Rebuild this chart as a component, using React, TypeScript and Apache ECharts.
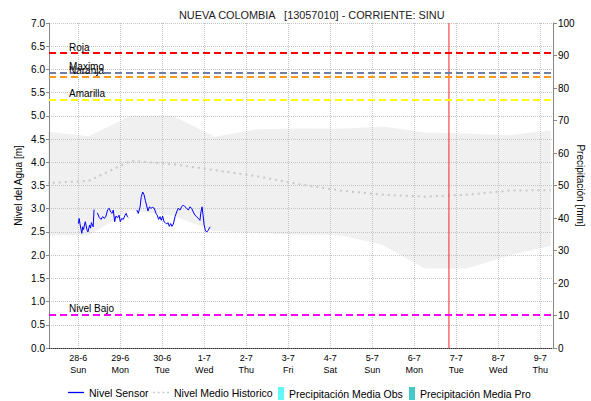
import { useEffect, useRef } from 'react';
import * as echarts from 'echarts';

// ---------- data ----------
const TITLE = 'NUEVA COLOMBIA   [13057010] - CORRIENTE: SINU';
const WEEKDAYS = ['Sun', 'Mon', 'Tue', 'Wed', 'Thu', 'Fri', 'Sat'];

// hours counted from 2020-06-28 00:00 (local)
const sensorSeg1Hours = [0, 0.5, 1, 2, 2.5, 3, 3.5, 4, 5, 5.5, 6.5, 7, 7.5, 8.5, 9];
const sensorSeg1Levels = [2.68, 2.79, 2.67, 2.47, 2.61, 2.55, 2.65, 2.72, 2.54, 2.5, 2.65, 2.58, 2.7, 2.61, 2.98];
const sensorSeg2Hours = [10.9, 12, 13, 13.9, 14.9, 15.8, 16.8, 17.7, 18.5, 19.3, 20, 20.8, 21.5, 22.5, 23.3, 24, 24.8, 25.7, 26.7, 27.4, 28, 28.6];
const sensorSeg2Levels = [2.91, 2.81, 2.77, 2.83, 2.79, 2.84, 2.98, 3.01, 2.93, 2.9, 2.97, 2.72, 2.84, 2.81, 2.86, 2.72, 2.79, 2.77, 2.86, 2.9, 2.83, 2.81];
const sensorSeg3Hours = [33.4, 34.3, 35.3, 36, 36.8, 37.5, 38.3, 39.1, 39.8, 40.6, 41.5, 42.5, 43.4, 44.4, 45.1, 45.9, 46.7, 47.4, 48.2, 49, 49.7, 50.5, 51.3, 52, 52.8, 53.5, 54.3, 55.3, 56.2, 57.1, 58.1, 59, 60, 61, 61.9, 62.9, 63.8, 64.8, 65.7, 66.7, 67.6, 68.6, 69.5, 70.1, 70.7, 71.3, 71.9, 72.7, 73.5, 74.3, 75.3];
const sensorSeg3Levels = [2.97, 2.9, 3.04, 3.26, 3.36, 3.31, 3.18, 3.06, 2.95, 3.04, 3.01, 3.03, 3.01, 2.9, 2.86, 2.77, 2.83, 2.75, 2.84, 2.72, 2.7, 2.67, 2.7, 2.62, 2.68, 2.62, 2.67, 2.83, 2.93, 3.01, 2.97, 3.04, 3.08, 3.04, 3.01, 2.97, 3.04, 3.01, 2.93, 2.86, 2.83, 2.79, 2.75, 2.93, 3.04, 2.86, 2.65, 2.52, 2.5, 2.54, 2.61];

const histHours = [-18, 6, 30, 54, 78, 102, 126, 150, 174, 198, 222, 246, 270];
const histUpper = [4.66, 4.56, 5.0, 5.0, 4.55, 4.71, 4.73, 4.72, 4.77, 4.64, 4.62, 4.58, 4.69];
const histLower = [2.43, 2.43, 2.96, 2.85, 2.52, 2.48, 2.44, 2.43, 2.22, 1.71, 1.71, 1.99, 2.2];
const histMean = [3.55, 3.6, 4.03, 3.96, 3.83, 3.7, 3.53, 3.39, 3.3, 3.26, 3.3, 3.39, 3.4];

const thresholdNames = ['Roja', 'Maximo', 'Naranja', 'Amarilla', 'Nivel Bajo'];
const thresholdValues = [6.35, 5.93, 5.84, 5.35, 0.72];
const thresholdColors = ['#ff0000', '#6f7ea3', '#ff9a1f', '#ffff00', '#ff00ff'];

const precipObs: number[][] = [];
const precipPro: number[][] = [];

const nowHour = 211.8;
const axisStartHour = -16.74;
const axisSpanHours = 288;

// ---------- helpers ----------
const BASE = new Date(2020, 5, 28, 0, 0, 0).getTime();
const H = 3600000;
const t = (h: number) => BASE + h * H;

function buildSensor() {
  const out: (number | null)[][] = [];
  const segs = [
    [sensorSeg1Hours, sensorSeg1Levels],
    [sensorSeg2Hours, sensorSeg2Levels],
    [sensorSeg3Hours, sensorSeg3Levels],
  ];
  segs.forEach(([hs, vs], i) => {
    if (i > 0) out.push([t(hs[0] - 1), null]);
    hs.forEach((h, j) => out.push([t(h), vs[j]]));
  });
  return out;
}

const FONT = "'Liberation Sans', Arial, sans-serif";
const ICON_SOLID = 'path://M0,0h16v1.3h-16z';
const ICON_DOTTED = 'path://M0,0h2v1.8h-2zM5,0h2v1.8h-2zM10,0h2v1.8h-2zM15,0h2v1.8h-2z';

const legendBase = {
  top: 382,
  itemHeight: 10,
  textStyle: { fontSize: 10.5, color: '#000', fontFamily: FONT },
};

export default function App() {
  const ref = useRef<HTMLDivElement>(null);
  useEffect(() => {
    const chart = echarts.init(ref.current!, undefined, { renderer: 'svg' });
    const option: any = {
      animation: false,
      backgroundColor: '#ffffff',
      textStyle: { fontFamily: FONT },
      title: {
        text: TITLE,
        left: 174,
        top: 4,
        textStyle: { fontSize: 10.9, fontWeight: 'normal', color: '#222', fontFamily: FONT },
      },
      legend: [
        { ...legendBase, left: 63, itemWidth: 16, data: [{ name: 'Nivel Sensor', icon: ICON_SOLID }] },
        { ...legendBase, left: 148, itemWidth: 16, data: [{ name: 'Nivel Medio Historico', icon: ICON_DOTTED }] },
        { ...legendBase, left: 273, itemWidth: 6, itemHeight: 13, data: [{ name: 'Precipitación Media Obs', icon: 'rect' }] },
        { ...legendBase, left: 404, itemWidth: 6, itemHeight: 13, data: [{ name: 'Precipitación Media Pro', icon: 'rect' }] },
      ],
      grid: { left: 49, right: 38, top: 23, bottom: 53, containLabel: false, outerBoundsMode: 'none' },
      xAxis: {
        type: 'time',
        min: t(axisStartHour),
        max: t(axisStartHour + axisSpanHours),
        minInterval: 24 * H,
        maxInterval: 24 * H,
        axisLine: { show: true, lineStyle: { color: '#333', type: 'dotted', width: 1 } },
        axisTick: { show: false },
        splitLine: { show: true, lineStyle: { color: '#c4c4c4', type: 'dotted', width: 1 } },
        axisLabel: {
          showMinLabel: false,
          showMaxLabel: false,
          fontSize: 9,
          lineHeight: 12,
          color: '#000',
          fontFamily: "'Liberation Sans Narrow', 'Liberation Sans', Arial, sans-serif",
          margin: 4,
          formatter: (v: number) => {
            const d = new Date(v);
            return `${d.getDate()}-${d.getMonth() + 1}\n${WEEKDAYS[d.getDay()]}`;
          },
        },
      },
      yAxis: [
        {
          type: 'value',
          min: 0,
          max: 7,
          interval: 0.5,
          name: 'Nivel del Agua [m]',
          nameLocation: 'middle',
          nameGap: 26,
          nameMoveOverlap: false,
          nameTextStyle: { fontSize: 10, color: '#000', fontFamily: FONT },
          axisLine: { show: true, lineStyle: { color: '#888', width: 1 } },
          axisTick: { show: true, length: 3, lineStyle: { color: '#888' } },
          splitLine: { show: true, lineStyle: { color: '#c4c4c4', type: 'dotted', width: 1 } },
          axisLabel: {
            fontSize: 10,
            color: '#000',
            margin: 4,
            formatter: (v: number) => v.toFixed(1),
          },
        },
        {
          type: 'value',
          min: 0,
          max: 100,
          interval: 10,
          position: 'right',
          name: 'Precipitación [mm]',
          nameLocation: 'middle',
          nameRotate: -90,
          nameGap: 22,
          nameMoveOverlap: false,
          nameTextStyle: { fontSize: 10, color: '#000', fontFamily: FONT },
          axisLine: { show: true, lineStyle: { color: '#888', width: 1 } },
          axisTick: { show: true, length: 4, lineStyle: { color: '#888' } },
          splitLine: { show: false },
          axisLabel: { fontSize: 10, color: '#000', margin: 5 },
        },
      ],
      series: [
        {
          name: 'bandLower',
          type: 'line',
          stack: 'band',
          z: -1,
          symbol: 'none',
          silent: true,
          lineStyle: { opacity: 0 },
          areaStyle: { opacity: 0 },
          data: histHours.map((h, i) => [t(h), histLower[i]]),
        },
        {
          name: 'bandRange',
          type: 'line',
          stack: 'band',
          z: -1,
          symbol: 'none',
          silent: true,
          lineStyle: { opacity: 0 },
          areaStyle: { color: '#f0f0f0', opacity: 1 },
          data: histHours.map((h, i) => [t(h), +(histUpper[i] - histLower[i]).toFixed(3)]),
        },
        {
          name: 'Nivel Medio Historico',
          type: 'line',
          symbol: 'none',
          color: '#c8c8c8',
          lineStyle: { color: '#c8c8c8', width: 2, type: [2, 4] },
          data: histHours.map((h, i) => [t(h), histMean[i]]),
        },
        {
          name: 'Nivel Sensor',
          type: 'line',
          symbol: 'none',
          color: '#0000ff',
          connectNulls: false,
          lineStyle: { color: '#0000ff', width: 1 },
          data: buildSensor(),
        },
        {
          name: 'ahora',
          type: 'line',
          symbol: 'none',
          silent: true,
          color: '#ff2020',
          lineStyle: { color: '#ff2020', width: 1, type: 'solid' },
          data: [
            [t(nowHour), 0],
            [t(nowHour), 7],
          ],
        },
        {
          name: 'umbrales',
          type: 'line',
          data: [],
          markLine: {
            silent: true,
            symbol: 'none',
            data: thresholdNames.map((n, i) => ({
              name: n,
              yAxis: thresholdValues[i],
              lineStyle: { color: thresholdColors[i], type: [7, 4], width: 2 },
              label: {
                show: true,
                position: 'insideStartTop',
                distance: [20, 1],
                formatter: n,
                color: '#000',
                fontSize: 10,
                fontFamily: FONT,
              },
            })),
          },
        },
        {
          name: 'Precipitación Media Obs',
          type: 'line',
          yAxisIndex: 1,
          symbol: 'none',
          color: '#62f7f7',
          data: precipObs,
        },
        {
          name: 'Precipitación Media Pro',
          type: 'line',
          yAxisIndex: 1,
          symbol: 'none',
          color: '#44c8c8',
          data: precipPro,
        },
      ],
    };
    chart.setOption(option);
    return () => chart.dispose();
  }, []);
  return <div ref={ref} style={{ position: 'fixed', left: 0, top: 0, width: 591, height: 401 }} />;
}
